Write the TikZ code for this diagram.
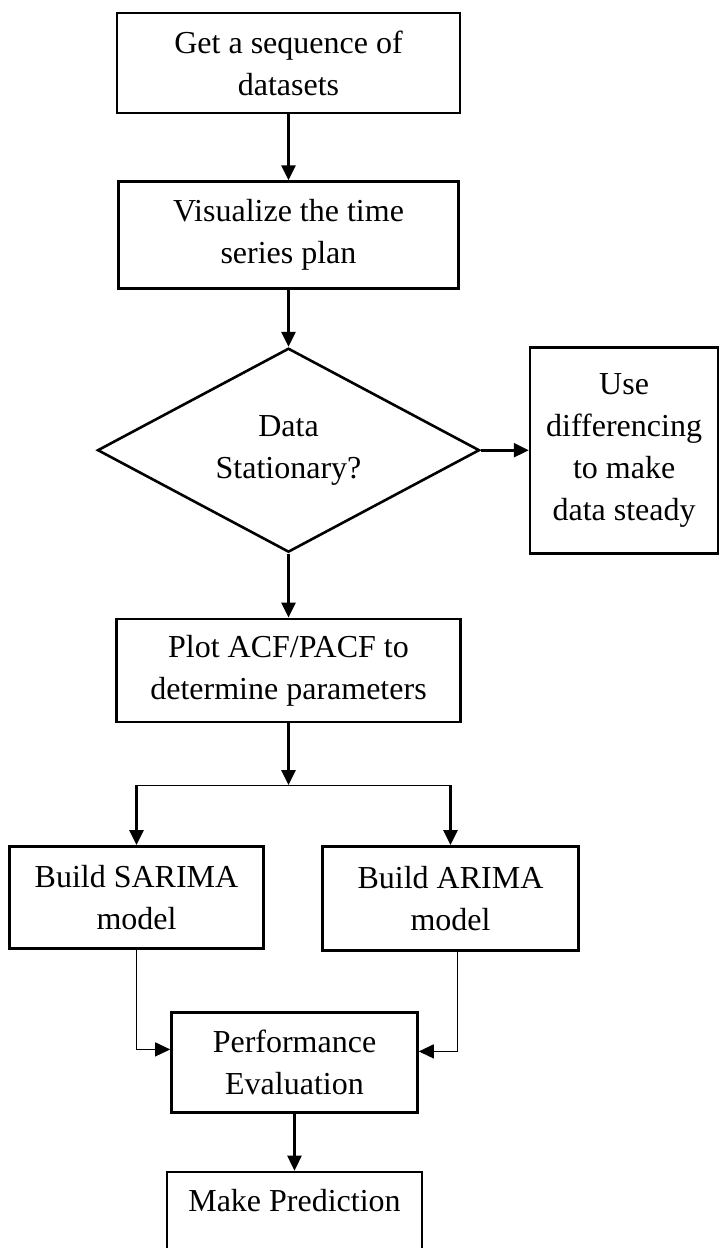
\documentclass[tikz,border=0pt]{standalone}
\usepackage{fontspec}
\setmainfont{Liberation Serif}
\usepackage{tikz}
\usetikzlibrary{arrows.meta, positioning, shapes.geometric}
\tikzstyle{process} = [rectangle, draw=black, line width=1.3pt, align=center, font=\fontsize{16pt}{21pt}\selectfont]
\tikzstyle{decision} = [diamond, draw=black, line width=1.3pt, align=center, inner sep=0pt, aspect=1.87, minimum width=191pt, minimum height=102pt, font=\fontsize{16pt}{21pt}\selectfont]
\tikzstyle{arrow} = [line width=1.3pt,->,>={Triangle[length=7.5pt,width=7pt]}]
\tikzstyle{thinarrow} = [line width=0.6pt,->,>={Triangle[length=7.5pt,width=7pt]}]
\tikzstyle{thinline} = [line width=0.6pt]

\begin{document}
\begin{tikzpicture}

\useasboundingbox (-144.25pt,31.5pt) rectangle (215.25pt,-592.5pt);
\clip (-144.25pt,31.5pt) rectangle (215.25pt,-592.5pt);

\node (start) [process, minimum width=171.5pt, minimum height=50pt] {Get a sequence of\\datasets};
\node (visual) [process, below=33pt of start, minimum width=170pt, minimum height=53.5pt] {Visualize the time\\series plan};
\node (dec) [decision, below=28.5pt of visual] {Data\\Stationary?};
\node (diff) [process, right=24pt of dec, minimum width=94pt, minimum height=103pt] {Use\\differencing\\to make\\data steady};
\node (plot) [process, below=32pt of dec, minimum width=172pt, minimum height=51.5pt] {Plot ACF/PACF to\\determine parameters};
\coordinate [below=31pt of plot] (branch);
\node (sarima) [process, below=61pt of plot, xshift=-76pt, minimum width=127pt, minimum height=51pt] {Build SARIMA\\model};
\node (arima) [process, below=61pt of plot, xshift=81pt, minimum width=128pt, minimum height=52pt] {Build ARIMA\\model};
\node (perf) [process, below=144pt of plot, xshift=3pt, minimum width=123pt, minimum height=50pt] {Performance\\Evaluation};
\node (make) [process, below=28.5pt of perf, minimum width=127.5pt, inner ysep=7pt, text height=12.5pt, text depth=40pt] {Make Prediction};

\draw [arrow] (start) -- (visual);
\draw [arrow] (visual) -- (dec);
\draw [arrow] (dec) -- (diff);
\draw [arrow] (dec) -- (plot);
\draw [arrow] (plot) -- (branch);
\draw [thinline] (branch -| sarima) -- (branch -| arima);
\draw [arrow] (branch -| sarima) -- (sarima);
\draw [arrow] (branch -| arima) -- (arima);
\draw [thinarrow] (sarima) |- ([yshift=6.5pt]perf.west);
\draw [thinarrow] ([xshift=3.5pt]arima.south) |- ([yshift=5.5pt]perf.east);
\draw [arrow] (perf) -- (make);

\end{tikzpicture}
\end{document}
